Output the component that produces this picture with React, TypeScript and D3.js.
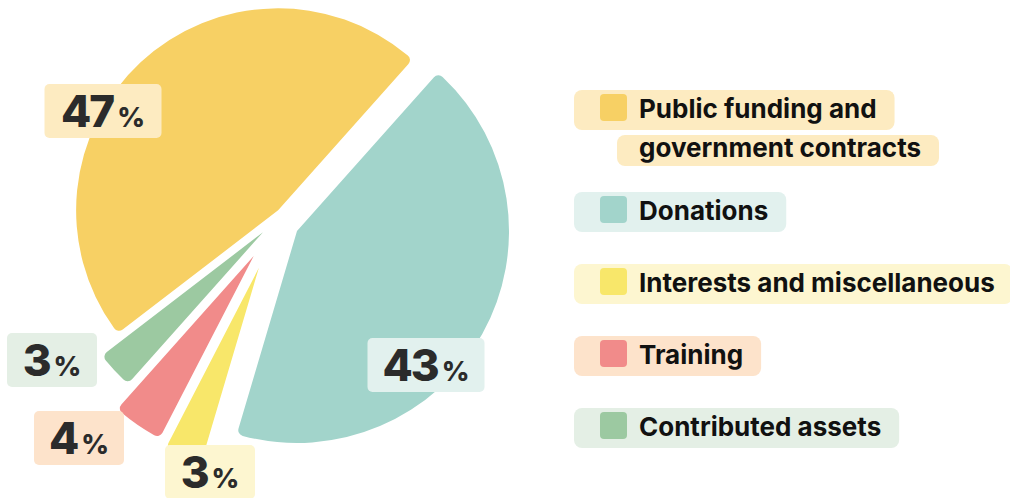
import * as d3 from 'd3'

// ---- data ----
const categories = [
  'Public funding and government contracts',
  'Donations',
  'Interests and miscellaneous',
  'Training',
  'Contributed assets',
]
const shares = [47, 43, 3, 4, 3]
const legendLines = [
  ['Public funding and', 'government contracts'],
  ['Donations'],
  ['Interests and miscellaneous'],
  ['Training'],
  ['Contributed assets'],
]

// ---- styling / layout ----
const sliceColors = ['#f7d064', '#a2d4cb', '#f8e76a', '#f18b8a', '#9cc9a1']
const tintColors = ['#fdebc1', '#e2f1ee', '#fdf6d0', '#fde3cb', '#e4efe5']

const W = 1010
const H = 498
const CX = 297
const CY = 231
const START = (-127.5 * Math.PI) / 180
const sliceRadius = [202, 212, 203, 205, 203]
// explode nudge per slice: [direction in degrees clockwise from north, distance]
const nudge = [[-42.4, 28], [0, 0], [226, 53], [240, 50], [268, 34]]
const labelCenters = [[103, 111], [426, 365], [210, 472], [79, 438], [52, 360]]

const LEGEND_FONT = '700 26px Inter'
const NUM_FONT = 'Inter'

const measure = (() => {
  let ctx: CanvasRenderingContext2D | null = null
  return (txt: string, font: string) => {
    if (!ctx) ctx = document.createElement('canvas').getContext('2d')
    if (!ctx) return txt.length * 14
    ctx.font = font
    return ctx.measureText(txt).width
  }
})()

export default function App() {
  const pie = d3.pie<number>().sort(null).startAngle(START).endAngle(START + 2 * Math.PI)
  const arcs = pie(shares)

  // legend row tops
  const rowTops: number[] = []
  let top = 90
  legendLines.forEach((lines) => {
    rowTops.push(top)
    top += 72 + (lines.length - 1) * 30
  })

  return (
    <div>
      <style>{`body{margin:0;background:#fff}`}</style>
      <svg width={W} height={H} style={{ display: 'block' }}>
        {arcs.map((a, i) => {
          const arc = d3.arc<d3.PieArcDatum<number>>()
            .innerRadius(0)
            .outerRadius(sliceRadius[i])
            .cornerRadius(6)
          const [deg, dist] = nudge[i]
          const rad = (deg * Math.PI) / 180
          const dx = dist * Math.sin(rad)
          const dy = -dist * Math.cos(rad)
          return (
            <g key={categories[i]} transform={`translate(${CX + dx},${CY + dy})`}>
              <path d={arc(a) || ''} fill={sliceColors[i]} />
            </g>
          )
        })}

        {shares.map((v, i) => {
          const [lx, ly] = labelCenters[i]
          const n = String(v).length
          const bw = 63 + 27 * n
          const bh = 54
          return (
            <g key={'lab' + i}>
              <rect x={lx - bw / 2} y={ly - bh / 2} width={bw} height={bh} rx={5} fill={tintColors[i]} />
              <text
                x={lx}
                y={ly + 16}
                textAnchor="middle"
                fill="#2b2b2b"
                fontFamily={NUM_FONT}
                fontWeight={800}
              >
                <tspan fontSize={44} letterSpacing={-2}>{v}</tspan>
                <tspan fontSize={27} dx={4}>%</tspan>
              </text>
            </g>
          )
        })}

        {legendLines.map((lines, i) => {
          const t = rowTops[i]
          return (
            <g key={'leg' + i}>
              {lines.map((ln, j) => {
                const w = measure(ln, LEGEND_FONT)
                const x0 = j === 0 ? 574 : 617
                const y0 = j === 0 ? t : t + 45
                const h = j === 0 ? 40 : 31
                return (
                  <rect
                    key={'bg' + j}
                    x={x0}
                    y={y0}
                    width={639 + w + 18 - x0}
                    height={h}
                    rx={8}
                    fill={tintColors[i]}
                  />
                )
              })}
              <rect x={600} y={t + 4} width={27} height={27} rx={4} fill={sliceColors[i]} />
              {lines.map((ln, j) => (
                <text
                  key={'tx' + j}
                  x={639}
                  y={t + 28 + j * 39}
                  fontFamily="Inter"
                  fontWeight={700}
                  fontSize={26}
                  fill="#111"
                >
                  {ln}
                </text>
              ))}
            </g>
          )
        })}
      </svg>
    </div>
  )
}
